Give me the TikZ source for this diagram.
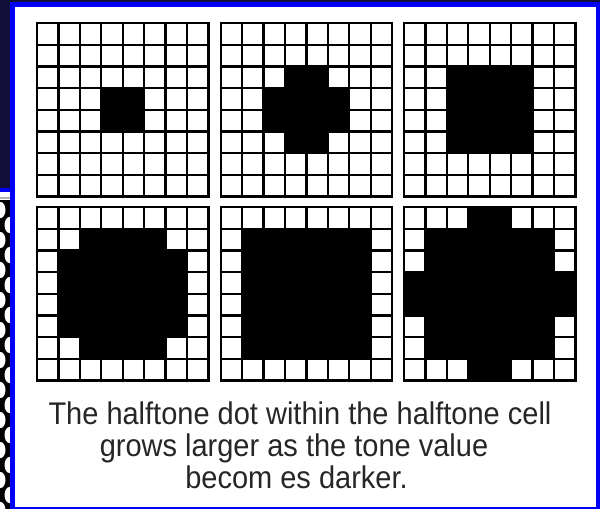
\documentclass[tikz,border=0pt]{standalone}
\usepackage{fontspec}
\setmainfont{Liberation Sans}
\definecolor{navy}{RGB}{18,14,58}
\definecolor{frameblue}{RGB}{0,0,245}
\tikzset{
  gridline/.style={line width=2.3pt, black, line cap=rect},
  dotfill/.style={fill=black},
  caption/.style={font=\fontsize{29}{32}\selectfont, inner sep=0pt, anchor=base, text=black!85, yscale=1.08, transform shape},
}
\newcommand{\htgrid}[3]{%
  \begin{scope}[shift={(#1,#2)}, x=21.44pt, y=-21.65pt]
    #3
    \foreach \i in {0,...,8} {
      \draw[gridline] (\i,0) -- (\i,8);
      \draw[gridline] (0,\i) -- (8,\i);
    }
  \end{scope}}
\begin{document}
\begin{tikzpicture}[x=1pt,y=-1pt]
  \useasboundingbox (0,0) rectangle (600,509);
  % left strip
  \fill[navy] (0,0) rectangle (10,188);
  \fill[frameblue] (0,188) rectangle (10,191.5);
  \fill[white] (0,191.5) rectangle (10,200);
  \fill[gray!60] (0,196.5) rectangle (10,199);
  \fill[black] (0,200) rectangle (10,509);
  \foreach \k in {0,...,10} {
    \fill[white] (0.5,{210+30*\k}) ellipse [x radius=5, y radius=8];
    \fill[white] (9.5,{225+30*\k}) ellipse [x radius=5, y radius=8];
  }
  % frame
  \fill[frameblue] (10,0) rectangle (600,509);
  \fill[navy] (0,0) rectangle (600,2);
  \fill[white] (15,7) rectangle (596,507);
  % grids
  \htgrid{37}{23.3}{\fill[dotfill] (3,3) rectangle (5,5);}
  \htgrid{220.7}{23.3}{\fill[dotfill] (3,2) rectangle (5,6); \fill[dotfill] (2,3) rectangle (6,5);}
  \htgrid{404}{23.3}{\fill[dotfill] (2,2) rectangle (6,6);}
  \htgrid{37}{207.3}{\fill[dotfill] (2,1) rectangle (6,7); \fill[dotfill] (1,2) rectangle (7,6);}
  \htgrid{220.7}{207.3}{\fill[dotfill] (1,1) rectangle (7,7);}
  \htgrid{404}{207.3}{\fill[dotfill] (3,0) rectangle (5,8); \fill[dotfill] (1,1) rectangle (7,7); \fill[dotfill] (0,3) rectangle (8,5);}
  % caption
  \node[caption] (l1) at (300,424) {The halftone dot within the halftone cell};
  \node[caption] (l2) at (294,456) {grows larger as the tone value};
  \node[caption] (l3) at (296.5,488) {becom es darker.};
\end{tikzpicture}
\end{document}
